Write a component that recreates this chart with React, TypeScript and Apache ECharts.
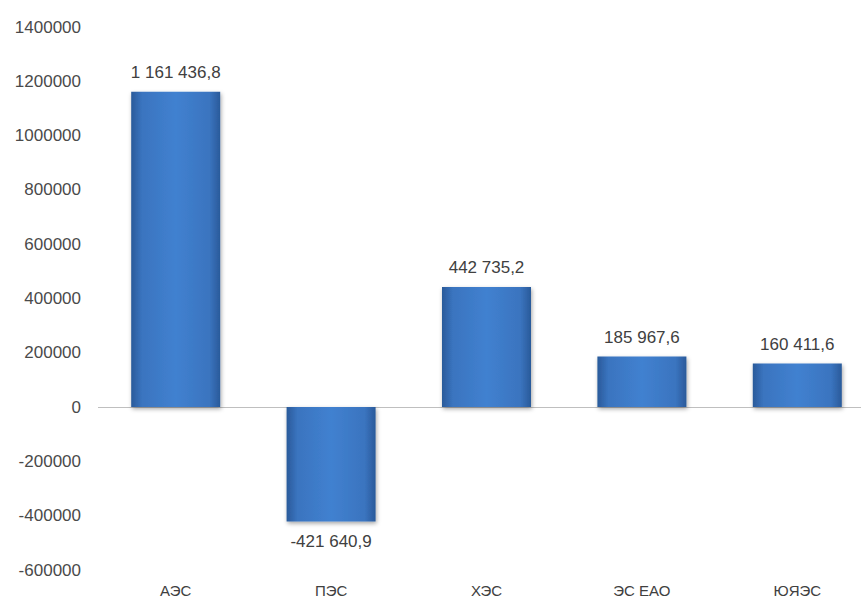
import React, { useEffect, useRef } from "react";
import * as echarts from "echarts";

const categories = ["АЭС", "ПЭС", "ХЭС", "ЭС ЕАО", "ЮЯЭС"];
const values = [1161436.8, -421640.9, 442735.2, 185967.6, 160411.6];
const yMin = -600000;
const yMax = 1400000;
const yInterval = 200000;

function fmt(v: number): string {
  const neg = v < 0;
  const s = Math.abs(v).toFixed(1);
  const [i, d] = s.split(".");
  const withSp = i.replace(/\B(?=(\d{3})+(?!\d))/g, " ");
  return (neg ? "-" : "") + withSp + "," + d;
}

export default function App() {
  const ref = useRef<HTMLDivElement>(null);
  useEffect(() => {
    if (!ref.current) return;
    const chart = echarts.init(ref.current, undefined, { renderer: "svg" });
    const barColor = new echarts.graphic.LinearGradient(0, 0, 1, 0, [
      { offset: 0, color: "#2a5a9a" },
      { offset: 0.12, color: "#3a74bf" },
      { offset: 0.5, color: "#4181d0" },
      { offset: 0.88, color: "#3a74bf" },
      { offset: 1, color: "#2a5a9a" },
    ]);
    chart.setOption({
      animation: false,
      backgroundColor: "#ffffff",
      grid: { left: 98, right: 0, top: 27, bottom: 36, containLabel: false },
      xAxis: {
        type: "category",
        data: categories,
        position: "bottom",
        axisLine: { show: false, onZero: false },
        axisTick: { show: false },
        axisLabel: {
          margin: 13,
          color: "#404040",
          fontFamily: "Liberation Sans",
          fontSize: 15,
        },
      },
      yAxis: {
        type: "value",
        min: yMin,
        max: yMax,
        interval: yInterval,
        splitLine: { show: false },
        axisLine: { show: false },
        axisTick: { show: false },
        axisLabel: {
          margin: 17,
          color: "#4a4a4a",
          fontFamily: "Liberation Sans",
          fontSize: 17,
          formatter: (v: number) => String(v),
        },
      },
      series: [
        {
          type: "bar",
          barWidth: 89,
          data: values.map((v) => ({
            value: v,
            label: { position: v < 0 ? "bottom" : "top" },
          })),
          itemStyle: {
            color: barColor,
            shadowColor: "rgba(0,0,0,0.35)",
            shadowBlur: 4,
            shadowOffsetX: 1,
            shadowOffsetY: 2,
          },
          label: {
            show: true,
            distance: 11,
            color: "#404040",
            fontFamily: "Liberation Sans",
            fontSize: 17,
            formatter: (p: any) => fmt(p.value),
          },
          markLine: {
            silent: true,
            symbol: "none",
            label: { show: false },
            lineStyle: { color: "#bfbfbf", width: 1, type: "solid" },
            data: [{ yAxis: 0 }],
            z: 1,
          },
          z: 3,
        },
      ],
    });
    return () => chart.dispose();
  }, []);
  return (
    <div style={{ position: "absolute", left: 0, top: 0, width: 861, height: 606, overflow: "hidden", background: "#fff" }}>
      <div ref={ref} style={{ width: 875, height: 606 }} />
    </div>
  );
}
